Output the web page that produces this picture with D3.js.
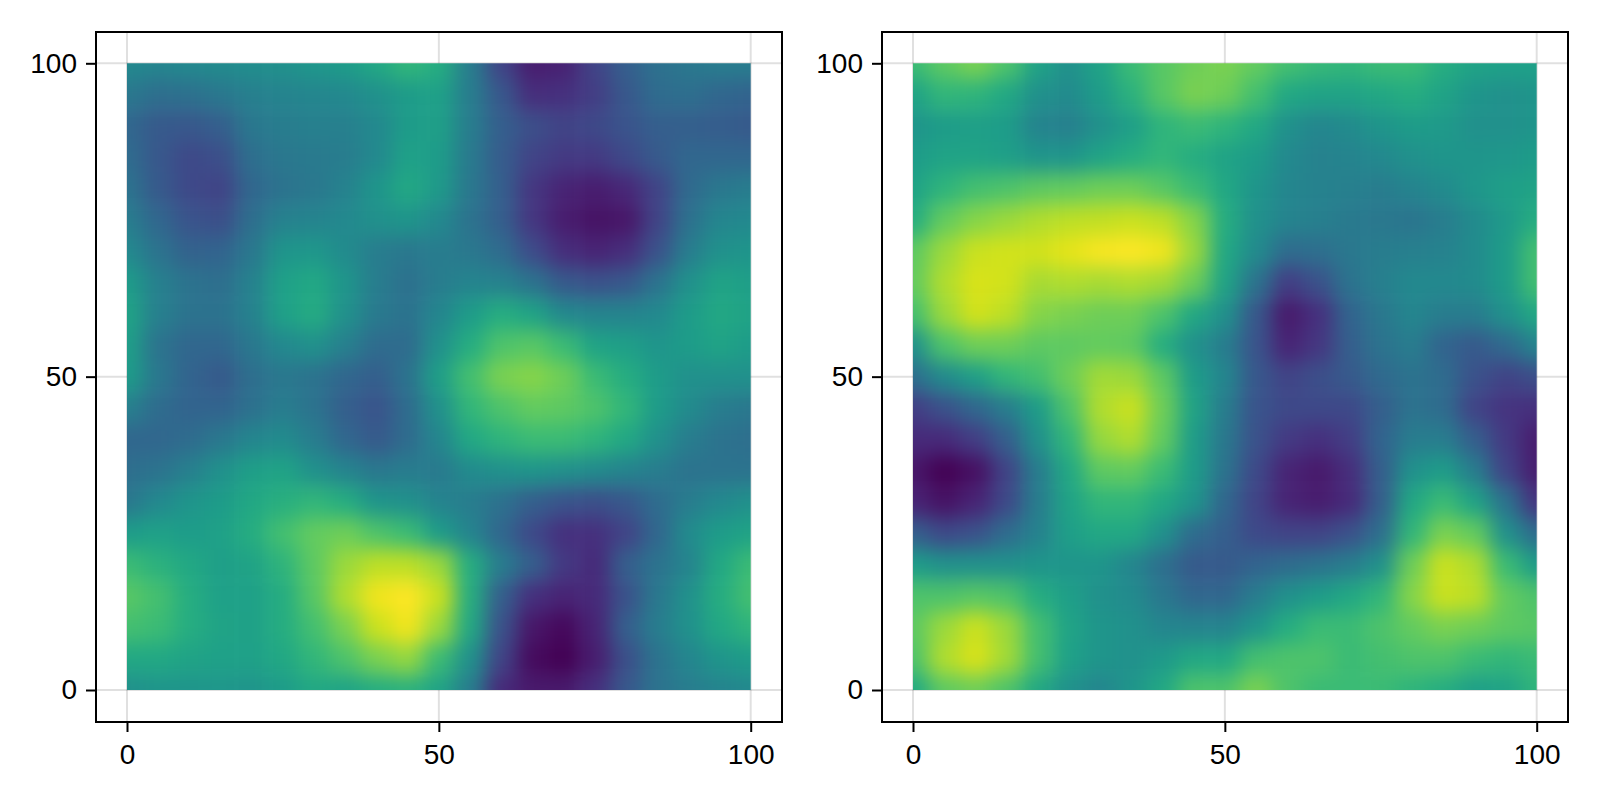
<!DOCTYPE html>
<html>
<head>
<meta charset="utf-8">
<script src="https://cdn.jsdelivr.net/npm/d3@7"></script>
<style>
    html, body { margin: 0; padding: 0; background: #fff; }
    svg { display: block; }
    .tick text { font-family: "Liberation Sans", Arial, sans-serif; font-size: 28px; fill: #000; }
</style>
</head>
<body>
<div id="chart-area"></div>
<script>
// DATA
// =====

// sample positions of the read-off values, one every 5 units
var xSamples = [0, 5, 10, 15, 20, 25, 30, 35, 40, 45, 50, 55, 60, 65, 70, 75, 80, 85, 90, 95, 100];
var ySamples = [100, 95, 90, 85, 80, 75, 70, 65, 60, 55, 50, 45, 40, 35, 30, 25, 20, 15, 10, 5, 0];

var xTicks = [0, 50, 100];
var yTicks = [0, 50, 100];

// viridis fraction per sample, rows run top (y = 100) to bottom (y = 0)
var heatLeft = [
    [.47, .46, .47, .48, .49, .50, .53, .55, .60, .66, .62, .42, .20, .08, .09, .20, .30, .37, .40, .42, .42],
    [.40, .36, .37, .40, .43, .45, .46, .47, .50, .55, .57, .42, .27, .13, .14, .18, .27, .35, .36, .33, .32],
    [.33, .28, .27, .30, .40, .42, .43, .43, .47, .55, .56, .42, .30, .24, .20, .22, .26, .30, .30, .29, .28],
    [.35, .27, .22, .24, .36, .40, .41, .42, .47, .57, .55, .41, .29, .20, .17, .17, .22, .28, .33, .33, .33],
    [.38, .28, .22, .20, .33, .38, .40, .44, .52, .60, .54, .40, .30, .16, .10, .08, .11, .20, .34, .40, .42],
    [.42, .33, .26, .24, .36, .44, .45, .47, .50, .52, .47, .38, .30, .16, .08, .05, .06, .20, .37, .46, .47],
    [.47, .38, .31, .32, .40, .52, .53, .48, .42, .40, .42, .40, .35, .23, .13, .10, .13, .25, .42, .50, .52],
    [.55, .43, .38, .36, .44, .57, .60, .52, .42, .37, .42, .45, .44, .38, .28, .25, .27, .38, .50, .58, .56],
    [.58, .43, .38, .38, .44, .57, .61, .50, .41, .38, .46, .55, .62, .58, .47, .45, .45, .47, .55, .60, .58],
    [.56, .38, .33, .33, .40, .47, .50, .43, .35, .35, .50, .62, .72, .74, .68, .58, .56, .52, .55, .58, .55],
    [.55, .40, .32, .28, .36, .40, .38, .33, .30, .38, .56, .70, .80, .82, .78, .68, .62, .55, .50, .50, .50],
    [.43, .35, .32, .32, .37, .42, .38, .30, .26, .35, .50, .66, .72, .76, .75, .72, .66, .55, .48, .42, .40],
    [.33, .33, .35, .40, .46, .48, .42, .33, .28, .35, .46, .60, .65, .68, .68, .65, .60, .50, .42, .38, .36],
    [.36, .38, .43, .50, .56, .58, .50, .45, .40, .42, .41, .48, .50, .52, .50, .48, .45, .42, .38, .38, .38],
    [.40, .47, .52, .55, .60, .63, .66, .62, .52, .50, .45, .42, .37, .30, .26, .24, .27, .35, .42, .47, .50],
    [.55, .57, .55, .57, .62, .70, .76, .78, .72, .68, .55, .45, .33, .22, .14, .14, .20, .33, .48, .55, .58],
    [.68, .64, .60, .56, .58, .65, .75, .85, .90, .90, .85, .62, .42, .30, .17, .12, .30, .38, .45, .60, .68],
    [.74, .70, .62, .57, .57, .62, .74, .88, .98, 1.0, .92, .62, .30, .14, .10, .12, .25, .40, .50, .62, .70],
    [.70, .68, .62, .58, .57, .62, .70, .80, .92, .98, .85, .60, .25, .06, .02, .10, .30, .42, .50, .60, .65],
    [.60, .60, .58, .57, .57, .60, .66, .72, .80, .84, .68, .50, .20, .03, 0, .08, .24, .38, .46, .52, .55],
    [.50, .52, .52, .53, .52, .55, .60, .58, .62, .64, .58, .42, .12, .07, .07, .14, .27, .38, .42, .45, .47]
];

var heatRight = [
    [.68, .75, .80, .72, .58, .50, .58, .68, .74, .78, .80, .76, .70, .67, .66, .68, .68, .62, .58, .57, .57],
    [.58, .66, .65, .60, .50, .48, .55, .64, .74, .80, .78, .70, .60, .58, .58, .60, .62, .58, .52, .50, .52],
    [.52, .55, .56, .55, .45, .43, .50, .56, .65, .68, .65, .60, .50, .46, .48, .52, .55, .54, .50, .50, .52],
    [.55, .58, .58, .56, .52, .52, .58, .62, .66, .62, .58, .55, .47, .44, .45, .47, .50, .52, .52, .53, .55],
    [.58, .65, .70, .72, .75, .76, .78, .78, .74, .68, .60, .52, .46, .44, .43, .42, .45, .48, .53, .56, .58],
    [.62, .76, .82, .85, .88, .90, .91, .92, .90, .82, .62, .50, .45, .43, .41, .40, .39, .42, .48, .54, .62],
    [.75, .85, .92, .93, .93, .96, .99, 1.0, .98, .85, .60, .48, .35, .36, .40, .42, .43, .44, .48, .55, .70],
    [.76, .88, .94, .93, .87, .88, .87, .88, .86, .78, .58, .38, .18, .25, .38, .43, .47, .47, .48, .55, .70],
    [.70, .85, .93, .90, .82, .80, .78, .78, .72, .60, .50, .27, .07, .14, .32, .40, .46, .42, .42, .50, .60],
    [.50, .72, .78, .78, .75, .75, .76, .75, .62, .50, .42, .26, .10, .16, .30, .38, .42, .32, .28, .34, .45],
    [.36, .48, .56, .66, .70, .78, .86, .85, .75, .55, .46, .27, .20, .24, .28, .34, .38, .35, .25, .20, .24],
    [.18, .25, .33, .42, .55, .72, .88, .92, .78, .58, .42, .26, .22, .22, .22, .30, .38, .35, .20, .15, .14],
    [.12, .12, .18, .30, .50, .66, .84, .88, .76, .55, .40, .25, .17, .14, .18, .32, .42, .42, .30, .17, .08],
    [.06, 0, .04, .20, .42, .60, .75, .76, .68, .55, .38, .22, .10, .07, .13, .30, .50, .55, .42, .20, .08],
    [.10, .05, .10, .22, .42, .58, .66, .66, .60, .52, .33, .20, .10, .08, .12, .30, .60, .68, .58, .38, .15],
    [.30, .22, .25, .35, .44, .56, .60, .60, .50, .35, .30, .22, .20, .20, .25, .36, .66, .80, .76, .50, .35],
    [.55, .50, .50, .50, .52, .52, .52, .46, .36, .28, .28, .32, .35, .38, .42, .50, .78, .92, .88, .68, .55],
    [.72, .72, .74, .72, .62, .56, .50, .48, .40, .33, .33, .42, .50, .55, .60, .66, .82, .92, .90, .76, .72],
    [.75, .85, .92, .85, .70, .58, .52, .50, .46, .45, .45, .52, .62, .68, .68, .72, .76, .80, .78, .75, .74],
    [.72, .88, .94, .86, .70, .57, .52, .50, .54, .60, .60, .70, .72, .72, .68, .70, .72, .72, .68, .66, .68],
    [.60, .75, .78, .72, .60, .50, .46, .52, .60, .72, .72, .80, .72, .68, .68, .68, .65, .62, .56, .58, .65]
];


// CANVAS
// =======

var width = 1600, height = 800;
var frameTop = 32, frameBottom = 722;
var plotTop = 63.3, plotBottom = 690;
var step = 2.5;     // half a sample cell, in data units
var bleed = 40;     // outer cells run past the plot so the blur keeps its edge colour

var color = d3.scaleSequential(d3.interpolateViridis).domain([0, 1]);

var svg = d3.select('#chart-area')
    .append('svg')
        .attr('width', width)
        .attr('height', height);

var defs = svg.append('defs');

defs.append('filter')
    .attr('id', 'smooth')
    .attr('filterUnits', 'userSpaceOnUse')
    .attr('x', 0)
    .attr('y', 0)
    .attr('width', width)
    .attr('height', height)
    .attr('color-interpolation-filters', 'sRGB')
    .append('feGaussianBlur')
        .attr('stdDeviation', 10);


// PANELS
// =======

function drawPanel(id, values, frameLeft, frameRight, plotLeft, plotRight) {
    var x, y, g, heat;

    x = d3.scaleLinear().domain([0, 100]).range([plotLeft, plotRight]);
    y = d3.scaleLinear().domain([0, 100]).range([plotBottom, plotTop]);

    g = svg.append('g').attr('class', id);

    // grid sits under the heatmap
    g.append('g')
        .selectAll('line')
        .data(xTicks)
        .enter()
        .append('line')
        .attr('x1', d => x(d))
        .attr('x2', d => x(d))
        .attr('y1', frameTop)
        .attr('y2', frameBottom)
        .attr('stroke', '#000')
        .attr('stroke-opacity', 0.12)
        .attr('stroke-width', 2);

    g.append('g')
        .selectAll('line')
        .data(yTicks)
        .enter()
        .append('line')
        .attr('x1', frameLeft)
        .attr('x2', frameRight)
        .attr('y1', d => y(d))
        .attr('y2', d => y(d))
        .attr('stroke', '#000')
        .attr('stroke-opacity', 0.12)
        .attr('stroke-width', 2);

    defs.append('clipPath')
        .attr('id', 'clip-' + id)
        .append('rect')
            .attr('x', plotLeft)
            .attr('y', plotTop)
            .attr('width', plotRight - plotLeft)
            .attr('height', plotBottom - plotTop);

    heat = g.append('g')
        .attr('clip-path', 'url(#clip-' + id + ')')
        .append('g')
            .attr('filter', 'url(#smooth)');

    ySamples.forEach((yVal, row) => {
        heat.selectAll('rect.row' + row)
            .data(xSamples)
            .enter()
            .append('rect')
            .attr('class', 'row' + row)
            .attr('x', (d, col) => x(d - step) - (col === 0 ? bleed : 0))
            .attr('y', y(yVal + step) - (row === 0 ? bleed : 0))
            .attr('width', (d, col) => x(d + step) - x(d - step) + 0.5 + (col === 0 || col === xSamples.length - 1 ? bleed : 0))
            .attr('height', y(yVal - step) - y(yVal + step) + 0.5 + (row === 0 || row === ySamples.length - 1 ? bleed : 0))
            .attr('fill', (d, col) => color(values[row][col]));
    });

    // axes
    var xAxisCall = d3.axisBottom(x)
        .tickValues(xTicks)
        .tickSize(10)
        .tickPadding(12);
    var xAxis = g.append('g')
        .attr('transform', 'translate(0,' + frameBottom + ')')
        .call(xAxisCall);

    var yAxisCall = d3.axisLeft(y)
        .tickValues(yTicks)
        .tickSize(10)
        .tickPadding(9);
    var yAxis = g.append('g')
        .attr('transform', 'translate(' + frameLeft + ',0)')
        .call(yAxisCall);

    [xAxis, yAxis].forEach(a => {
        a.attr('font-family', null).attr('font-size', null);
        a.select('.domain').remove();
        a.selectAll('.tick line').attr('stroke', '#000').attr('stroke-width', 2);
    });

    g.append('rect')
        .attr('x', frameLeft)
        .attr('y', frameTop)
        .attr('width', frameRight - frameLeft)
        .attr('height', frameBottom - frameTop)
        .attr('fill', 'none')
        .attr('stroke', '#000')
        .attr('stroke-width', 2);
}

drawPanel('left', heatLeft, 96, 782, 127, 750.7);
drawPanel('right', heatRight, 882, 1568, 913, 1536.7);
</script>
</body>
</html>
